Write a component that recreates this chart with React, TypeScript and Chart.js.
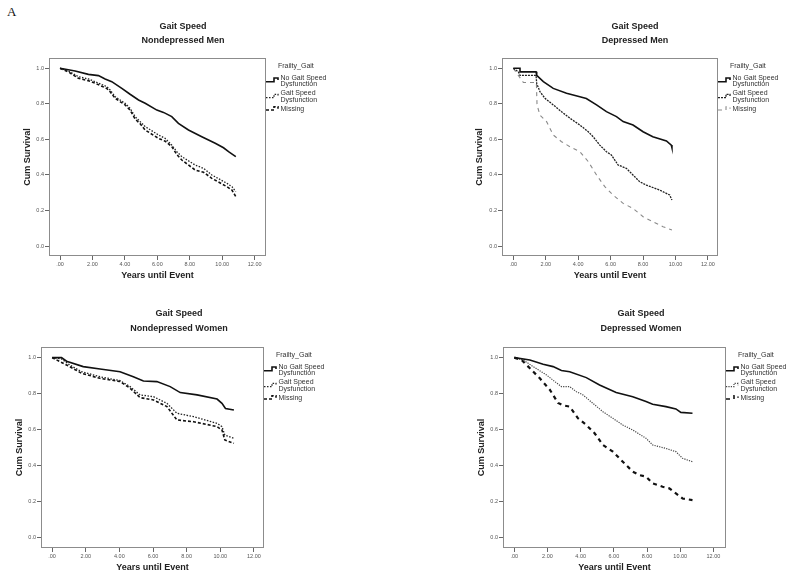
import React, { useEffect, useRef } from 'react';
import { Chart, registerables } from 'chart.js';

Chart.register(...registerables);

// ---------- text ----------
const figureLetter = 'A';
const mainTitle = 'Gait Speed';
const panelSubtitles = ['Nondepressed Men', 'Depressed Men', 'Nondepressed Women', 'Depressed Women'];
const xAxisTitle = 'Years until Event';
const yAxisTitle = 'Cum Survival';
const legendTitle = 'Frailty_Gait';
const seriesLabels: string[][] = [['No Gait Speed', 'Dysfunction'], ['Gait Speed', 'Dysfunction'], ['Missing']];

// ---------- ticks ----------
const xTickValues = [0, 2, 4, 6, 8, 10, 12];
const yTickValues = [0, 0.2, 0.4, 0.6, 0.8, 1.0];

// ---------- data: [years, cumulative survival] ----------
type Pt = [number, number];

const nondepMenNoDys: Pt[] = [
  [0, 1], [0.93, 0.985], [1.75, 0.966], [2.37, 0.959], [2.78, 0.94], [3.19, 0.925], [3.81, 0.887],
  [4.32, 0.854], [4.84, 0.822], [5.25, 0.803], [5.97, 0.765], [6.38, 0.752], [6.89, 0.728], [7.3, 0.69],
  [7.92, 0.653], [8.74, 0.615], [9.57, 0.578], [10.08, 0.553], [10.39, 0.531], [10.7, 0.512], [10.84, 0.503],
];
const nondepMenDys: Pt[] = [
  [0, 1], [0.51, 0.985], [1.13, 0.953], [1.75, 0.94], [2.16, 0.925], [2.88, 0.897], [3.09, 0.878],
  [3.4, 0.84], [4.01, 0.803], [4.32, 0.775], [4.63, 0.728], [4.94, 0.7], [5.25, 0.672], [6.07, 0.625],
  [6.48, 0.606], [6.89, 0.568], [7.2, 0.531], [7.51, 0.503], [8.33, 0.456], [8.85, 0.437], [9.36, 0.4],
  [10.29, 0.353], [10.6, 0.334], [10.84, 0.306],
];
const nondepMenMissing: Pt[] = [
  [0, 1], [0.51, 0.98], [1.13, 0.944], [1.75, 0.93], [2.16, 0.916], [2.88, 0.887], [3.09, 0.868],
  [3.4, 0.831], [4.01, 0.794], [4.32, 0.765], [4.63, 0.715], [4.94, 0.688], [5.25, 0.653], [6.07, 0.606],
  [6.48, 0.59], [6.89, 0.559], [7.2, 0.515], [7.51, 0.484], [8.33, 0.428], [8.85, 0.415], [9.36, 0.381],
  [10.29, 0.334], [10.6, 0.315], [10.84, 0.278],
];

const depMenNoDys: Pt[] = [
  [0, 1], [0.41, 1], [0.41, 0.98], [1.4, 0.98], [1.44, 0.96], [1.85, 0.925], [2.46, 0.887], [3.28, 0.86],
  [4.1, 0.84], [4.5, 0.83], [5.13, 0.794], [5.74, 0.756], [6.36, 0.728], [6.77, 0.7], [7.38, 0.681],
  [8.0, 0.643], [8.6, 0.615], [9.44, 0.591], [9.74, 0.568], [9.78, 0.553],
];
const depMenDys: Pt[] = [
  [0, 1], [0.31, 0.98], [0.41, 0.96], [1.4, 0.96], [1.44, 0.915], [1.64, 0.869], [1.95, 0.831],
  [2.46, 0.794], [2.97, 0.756], [3.49, 0.719], [4.1, 0.681], [4.62, 0.643], [4.92, 0.615], [5.33, 0.568],
  [5.74, 0.531], [6.05, 0.512], [6.46, 0.456], [6.97, 0.437], [7.79, 0.362], [8.2, 0.343], [9.03, 0.315],
  [9.64, 0.287], [9.78, 0.259],
];
const depMenMissing: Pt[] = [
  [0, 1], [0.31, 0.96], [0.62, 0.92], [1.42, 0.92], [1.46, 0.794], [1.64, 0.737], [2.05, 0.7],
  [2.46, 0.625], [2.97, 0.587], [3.49, 0.559], [4.1, 0.531], [4.62, 0.475], [5.13, 0.4], [5.64, 0.334],
  [6.15, 0.287], [6.77, 0.24], [7.38, 0.212], [8.0, 0.165], [8.6, 0.137], [9.23, 0.109], [9.78, 0.09],
];

const nondepWomenNoDys: Pt[] = [
  [0, 1], [0.56, 1], [0.86, 0.98], [1.85, 0.95], [2.85, 0.937], [4.04, 0.922], [4.83, 0.894],
  [5.43, 0.87], [6.23, 0.867], [7.02, 0.839], [7.62, 0.806], [8.62, 0.793], [9.81, 0.77], [10.1, 0.746],
  [10.31, 0.718], [10.81, 0.709],
];
const nondepWomenDys: Pt[] = [
  [0, 1], [0.56, 0.993], [1.05, 0.959], [1.75, 0.922], [2.85, 0.894], [4.04, 0.872], [4.64, 0.839],
  [5.23, 0.793], [6.03, 0.783], [6.83, 0.746], [7.42, 0.691], [8.42, 0.672], [9.81, 0.635], [10.1, 0.617],
  [10.27, 0.57], [10.81, 0.552],
];
const nondepWomenMissing: Pt[] = [
  [0, 1], [1.05, 0.95], [1.75, 0.913], [2.85, 0.885], [4.04, 0.867], [4.64, 0.83], [5.23, 0.778],
  [6.03, 0.765], [6.83, 0.728], [7.42, 0.654], [8.42, 0.644], [9.81, 0.617], [10.1, 0.598], [10.27, 0.543],
  [10.81, 0.524],
];

const depWomenNoDys: Pt[] = [
  [0, 1], [0.94, 0.987], [1.74, 0.963], [2.34, 0.95], [2.84, 0.928], [3.34, 0.922], [4.34, 0.889],
  [5.14, 0.848], [6.14, 0.806], [7.14, 0.783], [7.94, 0.756], [8.34, 0.741], [9.14, 0.728], [9.74, 0.715],
  [10.04, 0.696], [10.74, 0.691],
];
const depWomenDys: Pt[] = [
  [0, 1], [0.54, 0.987], [1.14, 0.95], [1.94, 0.904], [2.44, 0.867], [2.84, 0.839], [3.34, 0.839],
  [3.74, 0.811], [4.14, 0.793], [4.74, 0.746], [5.34, 0.7], [5.94, 0.663], [6.54, 0.626], [7.14, 0.598],
  [7.94, 0.552], [8.34, 0.515], [9.14, 0.496], [9.74, 0.478], [10.14, 0.441], [10.74, 0.422],
];
const depWomenMissing: Pt[] = [
  [0, 1], [0.44, 0.987], [0.94, 0.941], [1.54, 0.885], [2.14, 0.822], [2.64, 0.748], [2.94, 0.735],
  [3.34, 0.728], [3.84, 0.663], [4.34, 0.626], [4.84, 0.58], [5.34, 0.515], [5.94, 0.478], [6.54, 0.422],
  [7.14, 0.367], [7.54, 0.348], [7.94, 0.339], [8.34, 0.302], [8.94, 0.283], [9.34, 0.274], [9.74, 0.246],
  [10.14, 0.218], [10.74, 0.209],
];

const panelSeries: Pt[][][] = [
  [nondepMenNoDys, nondepMenDys, nondepMenMissing],
  [depMenNoDys, depMenDys, depMenMissing],
  [nondepWomenNoDys, nondepWomenDys, nondepWomenMissing],
  [depWomenNoDys, depWomenDys, depWomenMissing],
];

// ---------- layout & styles ----------
const FONT = "'Liberation Sans', Arial, Helvetica, sans-serif";

type SeriesStyle = { color: string; width: number; dash: number[] };
const solidStyle: SeriesStyle = { color: '#111', width: 1.6, dash: [] };
const dottedStyle: SeriesStyle = { color: '#222', width: 1.3, dash: [1.5, 1.5] };
const panelStyles: SeriesStyle[][] = [
  [solidStyle, dottedStyle, { color: '#111', width: 1.6, dash: [3, 2] }],
  [solidStyle, { color: '#222', width: 1.3, dash: [2, 1] }, { color: '#8a8a8a', width: 1.1, dash: [4, 4] }],
  [solidStyle, dottedStyle, { color: '#111', width: 1.6, dash: [3, 2] }],
  [solidStyle, { color: '#444', width: 1.2, dash: [1.2, 1.2] }, { color: '#111', width: 2.2, dash: [4, 4] }],
];

type PanelCfg = {
  x: number; y: number; w: number; h: number;
  box: { l: number; t: number; r: number; b: number };
  xMin: number; xMax: number; yMin: number; yMax: number;
  titleCx: number; titleY1: number; titleY2: number;
  yTitleX: number; xTitleY: number;
};

const panels: PanelCfg[] = [
  { x: 0, y: 0, w: 400, h: 290, box: { l: 49, t: 58, r: 266, b: 256 }, xMin: -0.68, xMax: 12.7, yMin: -0.056, yMax: 1.058,
    titleCx: 183, titleY1: 27, titleY2: 41, yTitleX: 28, xTitleY: 276 },
  { x: 400, y: 0, w: 400, h: 290, box: { l: 502, t: 58, r: 718, b: 256 }, xMin: -0.7, xMax: 12.62, yMin: -0.056, yMax: 1.058,
    titleCx: 635, titleY1: 27, titleY2: 41, yTitleX: 480, xTitleY: 276 },
  { x: 0, y: 290, w: 400, h: 288, box: { l: 41, t: 347, r: 264, b: 548 }, xMin: -0.66, xMax: 12.6, yMin: -0.057, yMax: 1.059,
    titleCx: 179, titleY1: 314, titleY2: 329, yTitleX: 20, xTitleY: 568 },
  { x: 400, y: 290, w: 400, h: 288, box: { l: 503, t: 347, r: 726, b: 548 }, xMin: -0.68, xMax: 12.76, yMin: -0.057, yMax: 1.059,
    titleCx: 641, titleY1: 314, titleY2: 329, yTitleX: 482, xTitleY: 568 },
];

const TITLE_SIZE = 9;
const TITLE_LH = 1.2;

function makeDecor(idx: number) {
  const cfg = panels[idx];
  return {
    id: 'decor' + idx,
    afterDraw(chart: any) {
      const ctx: CanvasRenderingContext2D = chart.ctx;
      const a = chart.chartArea;
      ctx.save();
      // frame
      ctx.strokeStyle = '#8c8c8c';
      ctx.lineWidth = 1;
      ctx.setLineDash([]);
      ctx.strokeRect(Math.round(a.left) + 0.5, Math.round(a.top) + 0.5,
        Math.round(a.right - a.left) - 1, Math.round(a.bottom - a.top) - 1);
      // titles
      ctx.fillStyle = '#222';
      ctx.font = `bold ${TITLE_SIZE}px ${FONT}`;
      ctx.textAlign = 'center';
      ctx.textBaseline = 'middle';
      ctx.fillText(mainTitle, cfg.titleCx - cfg.x, cfg.titleY1 - cfg.y);
      ctx.fillText(panelSubtitles[idx], cfg.titleCx - cfg.x, cfg.titleY2 - cfg.y);
      // legend
      const lx = a.right + 12;
      const ly = a.top + 8.3;
      ctx.font = `7px ${FONT}`;
      ctx.fillStyle = '#333';
      ctx.textAlign = 'left';
      ctx.fillText(legendTitle, lx, ly);
      const textX = a.right + 14.5;
      const lineOffsets = [[11.4, 18], [27, 34], [42.7]];
      const iconLow = [15.4, 31.4, 43.7];
      const iconHigh = [11.7, 28, 40.4];
      seriesLabels.forEach((lines, i) => {
        lines.forEach((t, j) => ctx.fillText(t, textX, ly + lineOffsets[i][j]));
        const ds = chart.data.datasets[i];
        ctx.strokeStyle = ds.borderColor;
        ctx.lineWidth = Math.min(ds.borderWidth, 1.6);
        ctx.setLineDash(ds.borderDash || []);
        ctx.beginPath();
        const x0 = a.right;
        ctx.moveTo(x0, ly + iconLow[i]);
        ctx.lineTo(x0 + 8, ly + iconLow[i]);
        ctx.lineTo(x0 + 8, ly + iconHigh[i]);
        ctx.lineTo(x0 + 12, ly + iconHigh[i]);
        ctx.lineTo(x0 + 12, ly + iconHigh[i] + 2);
        ctx.stroke();
      });
      ctx.restore();
    },
  };
}

function Panel({ idx }: { idx: number }) {
  const ref = useRef<HTMLCanvasElement>(null);
  const cfg = panels[idx];
  useEffect(() => {
    const canvas = ref.current!;
    const yW = cfg.box.l - cfg.x;
    const xH = cfg.y + cfg.h - cfg.box.b;
    const lh = TITLE_SIZE * TITLE_LH;
    const chart = new Chart(canvas, {
      type: 'line',
      data: {
        datasets: panelSeries[idx].map((pts, i) => {
          const st = panelStyles[idx][i];
          return {
            label: seriesLabels[i].join(' '),
            data: pts.map(([x, y]) => ({ x, y })),
            borderColor: st.color,
            borderWidth: st.width,
            borderDash: st.dash,
            pointRadius: 0,
            fill: false,
            tension: 0,
            borderCapStyle: 'butt',
          };
        }),
      },
      options: {
        animation: false,
        responsive: false,
        maintainAspectRatio: false,
        events: [],
        layout: {
          padding: { left: 0, top: cfg.box.t - cfg.y, right: cfg.x + cfg.w - cfg.box.r, bottom: 0 },
        },
        plugins: {
          legend: { display: false },
          title: { display: false },
          tooltip: { enabled: false },
        },
        scales: {
          x: {
            type: 'linear',
            min: cfg.xMin,
            max: cfg.xMax,
            afterBuildTicks: (s: any) => { s.ticks = xTickValues.map((v) => ({ value: v })); },
            afterFit: (s: any) => { s.height = xH; },
            border: { display: false },
            grid: { display: true, drawOnChartArea: false, drawTicks: true, tickLength: 4, color: '#666', lineWidth: 1 },
            ticks: {
              autoSkip: false, maxRotation: 0, padding: 1, color: '#555',
              font: { family: FONT, size: 5.5 },
              callback: (v: any) => (Number(v) === 0 ? '.00' : Number(v).toFixed(2)),
            },
            title: {
              display: true, text: xAxisTitle, color: '#222',
              font: { family: FONT, size: TITLE_SIZE, weight: 'bold', lineHeight: TITLE_LH },
              padding: { top: 0, bottom: cfg.y + cfg.h - cfg.xTitleY - lh / 2 },
            },
          },
          y: {
            type: 'linear',
            min: cfg.yMin,
            max: cfg.yMax,
            afterBuildTicks: (s: any) => { s.ticks = yTickValues.map((v) => ({ value: v })); },
            afterFit: (s: any) => { s.width = yW; },
            border: { display: false },
            grid: { display: true, drawOnChartArea: false, drawTicks: true, tickLength: 4, color: '#666', lineWidth: 1 },
            ticks: {
              autoSkip: false, padding: 1, color: '#555',
              font: { family: FONT, size: 5.5 },
              callback: (v: any) => Number(v).toFixed(1),
            },
            title: {
              display: true, text: yAxisTitle, color: '#222',
              font: { family: FONT, size: TITLE_SIZE, weight: 'bold', lineHeight: TITLE_LH },
              padding: { top: cfg.yTitleX - cfg.x - lh / 2, bottom: 0 },
            },
          },
        },
      } as any,
      plugins: [makeDecor(idx)],
    } as any);
    return () => chart.destroy();
  }, []);
  return (
    <canvas
      ref={ref}
      width={cfg.w}
      height={cfg.h}
      style={{ position: 'absolute', left: cfg.x, top: cfg.y, width: cfg.w, height: cfg.h }}
    />
  );
}

export default function App() {
  return (
    <div style={{ position: 'absolute', left: 0, top: 0, width: 800, height: 578, background: '#fff', overflow: 'hidden' }}>
      <div
        style={{
          position: 'absolute', left: 7, top: 5, fontFamily: "'Liberation Serif', 'Times New Roman', serif",
          fontSize: 13, lineHeight: '13px', color: '#111',
        }}
      >
        {figureLetter}
      </div>
      {panels.map((_, i) => (
        <Panel key={i} idx={i} />
      ))}
    </div>
  );
}
